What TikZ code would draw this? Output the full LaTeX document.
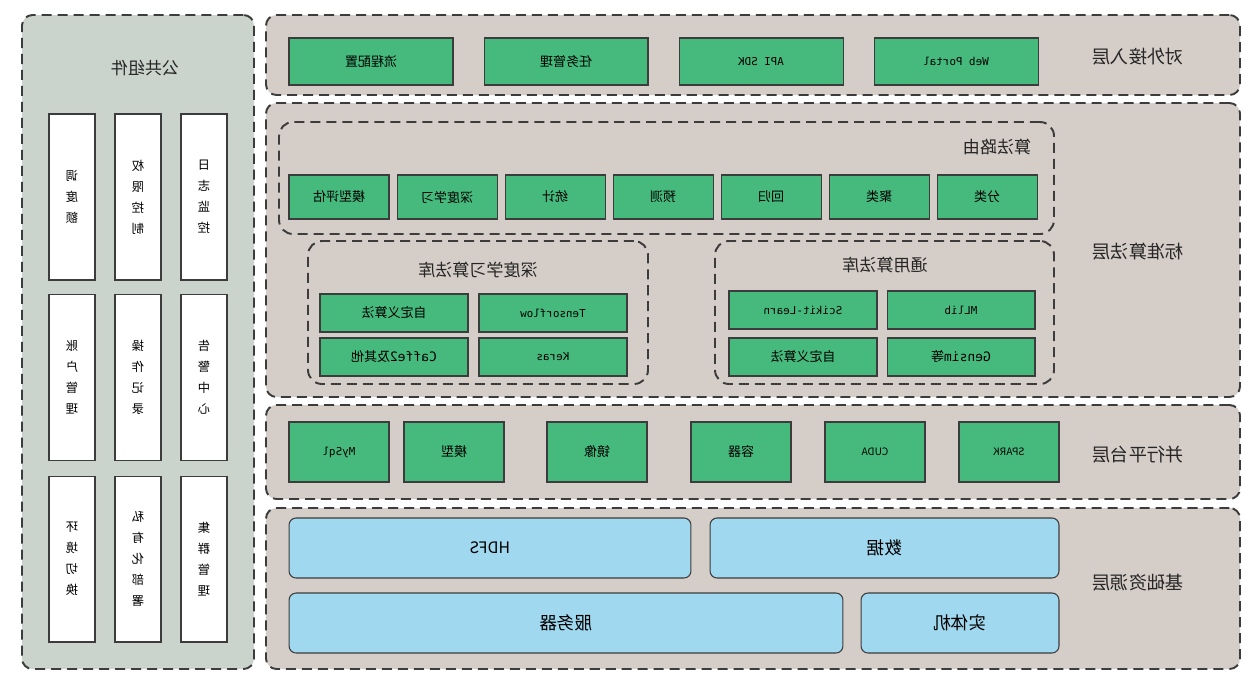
\documentclass[tikz,border=0pt]{standalone}
\usepackage{graphicx}
\usepackage{fontspec}
\setmainfont{Noto Sans CJK SC}
\newfontfamily\monofnt{DejaVu Sans Mono}
\usepackage{tikz}
\usepackage{xcolor}
\usetikzlibrary{fit, positioning}

\definecolor{tierfill}{HTML}{D5CDC8}
\definecolor{pubfill}{HTML}{CAD4CD}
\definecolor{boxgreen}{HTML}{46BA7D}
\definecolor{boxblue}{HTML}{A0D8EF}
\definecolor{edge}{HTML}{3C3C3C}
\newcommand{\mirr}[1]{\reflectbox{#1}}

\begin{document}
\begin{tikzpicture}[x=0.02cm, y=-0.02cm, node distance=0.6cm]
  \tikzstyle{tier}=[draw=edge, fill=tierfill, line width=1.1pt, dash pattern=on 5.7pt off 3.4pt, rounded corners=6pt, inner sep=0pt]
  \tikzstyle{pub}=[tier, fill=pubfill]
  \tikzstyle{libgroup}=[draw=edge, line width=1.1pt, dash pattern=on 5.7pt off 3.4pt, rounded corners=8pt, inner sep=0pt]
  \tikzstyle{gbox}=[draw=edge, fill=boxgreen, line width=0.6pt, inner sep=0pt, font=\fontsize{7.4}{9}\selectfont]
  \tikzstyle{bbox}=[draw=edge, fill=boxblue, line width=0.6pt, rounded corners=4pt, inner sep=0pt, minimum height=1.2cm, font=\fontsize{10}{12}\selectfont]
  \tikzstyle{wbox}=[draw=edge, fill=white, line width=0.6pt, inner sep=0pt, minimum width=0.92cm, minimum height=3.32cm, align=center, font=\fontsize{7}{12}\selectfont]
  \tikzstyle{lbl}=[font=\fontsize{10.4}{12}\selectfont, text=black!85]
  \tikzstyle{ttl}=[font=\fontsize{9.7}{12}\selectfont, text=black!85]

  \fill[white] (0,0) rectangle (1250,687);
  \useasboundingbox (0,0) rectangle (1250,687);

  % public components
  \node[pub, fit={(22,15) (254,669)}] (pub) {};
  \node[ttl] (pubtitle) at (145,68) {\mirr{公共组件}};
  \node[wbox] (sched) at (72,197)  {\mirr{调}\\\mirr{度}\\\mirr{额}};
  \node[wbox] (auth)  at (138,197) {\mirr{权}\\\mirr{限}\\\mirr{控}\\\mirr{制}};
  \node[wbox] (log)   at (204,197) {\mirr{日}\\\mirr{志}\\\mirr{监}\\\mirr{控}};
  \node[wbox] (acct)  at (72,377.5)  {\mirr{账}\\\mirr{户}\\\mirr{管}\\\mirr{理}};
  \node[wbox] (oplog) at (138,377.5) {\mirr{操}\\\mirr{作}\\\mirr{记}\\\mirr{录}};
  \node[wbox] (alarm) at (204,377.5) {\mirr{告}\\\mirr{警}\\\mirr{中}\\\mirr{心}};
  \node[wbox] (env)     at (72,559)  {\mirr{环}\\\mirr{境}\\\mirr{切}\\\mirr{换}};
  \node[wbox] (private) at (138,559) {\mirr{私}\\\mirr{有}\\\mirr{化}\\\mirr{部}\\\mirr{署}};
  \node[wbox] (cluster) at (204,559) {\mirr{集}\\\mirr{群}\\\mirr{管}\\\mirr{理}};

  % access tier
  \node[tier, fit={(266,15) (1240,95)}] (access) {};
  \node[lbl] (accesslbl) at (1138,57) {\mirr{对外接入层}};
  \node[gbox, minimum width=3.28cm, minimum height=0.94cm] (flow) at (371,61.5) {\mirr{流程配置}};
  \node[gbox, minimum width=3.28cm, minimum height=0.94cm] (task) [right=of flow] {\mirr{任务管理}};
  \node[gbox, minimum width=3.28cm, minimum height=0.94cm, font=\monofnt\fontsize{6.2}{8}\selectfont] (api) [right=of task] {\mirr{API SDK}};
  \node[gbox, minimum width=3.28cm, minimum height=0.94cm, font=\monofnt\fontsize{6.2}{8}\selectfont] (portal) [right=of api] {\mirr{Web Portal}};

  % algorithm tier
  \node[tier, fit={(266,103) (1240,397)}] (algo) {};
  \node[lbl] (algolbl) at (1138,252) {\mirr{标准算法层}};
  \node[libgroup, fit={(279,122) (1054,234)}] (route) {};
  \node[ttl] (routetitle) at (997,147) {\mirr{算法路由}};
  \begin{scope}[node distance=0.14cm, every node/.append style={minimum width=2cm, minimum height=0.88cm}]
    \node[gbox] (evalm) at (339,197) {\mirr{模型评估}};
    \node[gbox] (deep)  [right=of evalm] {\mirr{深度学习}};
    \node[gbox] (stat)  [right=of deep]  {\mirr{统计}};
    \node[gbox] (pred)  [right=of stat]  {\mirr{预测}};
    \node[gbox] (regr)  [right=of pred]  {\mirr{回归}};
    \node[gbox] (clus)  [right=of regr]  {\mirr{聚类}};
    \node[gbox] (clas)  [right=of clus]  {\mirr{分类}};
  \end{scope}

  \node[libgroup, fit={(308,241) (648,384)}] (dllib) {};
  \node[ttl] (dltitle) at (478,270) {\mirr{深度学习算法库}};
  \node[gbox, minimum width=2.96cm, minimum height=0.76cm] (dlcustom) at (394,313) {\mirr{自定义算法}};
  \node[gbox, minimum width=2.96cm, minimum height=0.76cm, font=\monofnt\fontsize{6.2}{8}\selectfont] (tf) at (553,313) {\mirr{Tensorflow}};
  \node[gbox, minimum width=2.96cm, minimum height=0.76cm] (caffe) at (394,357) {\mirr{{\monofnt Caffe2}及其他}};
  \node[gbox, minimum width=2.96cm, minimum height=0.76cm, font=\monofnt\fontsize{6.2}{8}\selectfont] (keras) at (553,357) {\mirr{Keras}};

  \node[libgroup, fit={(715,241) (1054,384)}] (genlib) {};
  \node[ttl] (gentitle) at (885,265) {\mirr{通用算法库}};
  \node[gbox, minimum width=2.96cm, minimum height=0.76cm, font=\monofnt\fontsize{6.2}{8}\selectfont] (sklearn) at (803,310) {\mirr{Scikit-Learn}};
  \node[gbox, minimum width=2.96cm, minimum height=0.76cm, font=\monofnt\fontsize{6.2}{8}\selectfont] (mllib) at (961,310) {\mirr{MLlib}};
  \node[gbox, minimum width=2.96cm, minimum height=0.76cm] (gencustom) at (803,357) {\mirr{自定义算法}};
  \node[gbox, minimum width=2.96cm, minimum height=0.76cm] (gensim) at (961,357) {\mirr{{\monofnt Gensim}等}};

  % parallel platform tier
  \node[tier, fit={(266,405) (1240,499)}] (para) {};
  \node[lbl] (paralbl) at (1138,455) {\mirr{并行平台层}};
  \node[gbox, minimum width=2cm, minimum height=1.2cm, font=\monofnt\fontsize{6.2}{8}\selectfont] (mysql) at (339,452) {\mirr{MySql}};
  \node[gbox, minimum width=2cm, minimum height=1.2cm] (model) at (454,452) {\mirr{模型}};
  \node[gbox, minimum width=2cm, minimum height=1.2cm] (image) at (597,452) {\mirr{镜像}};
  \node[gbox, minimum width=2cm, minimum height=1.2cm] (contr) at (741,452) {\mirr{容器}};
  \node[gbox, minimum width=2cm, minimum height=1.2cm, font=\fontsize{5.8}{7}\selectfont] (cuda) at (875,452) {\mirr{CUDA}};
  \node[gbox, minimum width=2cm, minimum height=1.2cm, font=\fontsize{5.8}{7}\selectfont] (spark) at (1009,452) {\mirr{SPARK}};

  % resource tier
  \node[tier, fit={(266,508) (1240,669)}] (res) {};
  \node[lbl] (reslbl) at (1138,583) {\mirr{基础资源层}};
  \node[bbox, minimum width=8.04cm, font=\fontsize{9}{11}\selectfont] (hdfs) at (490,548) {\mirr{HDFS}};
  \node[bbox, minimum width=6.98cm] (data) at (884.5,548) {\mirr{数据}};
  \node[bbox, minimum width=11.08cm] (server) at (566,623) {\mirr{服务器}};
  \node[bbox, minimum width=3.96cm] (bare) at (960,623) {\mirr{实体机}};
\end{tikzpicture}
\end{document}
